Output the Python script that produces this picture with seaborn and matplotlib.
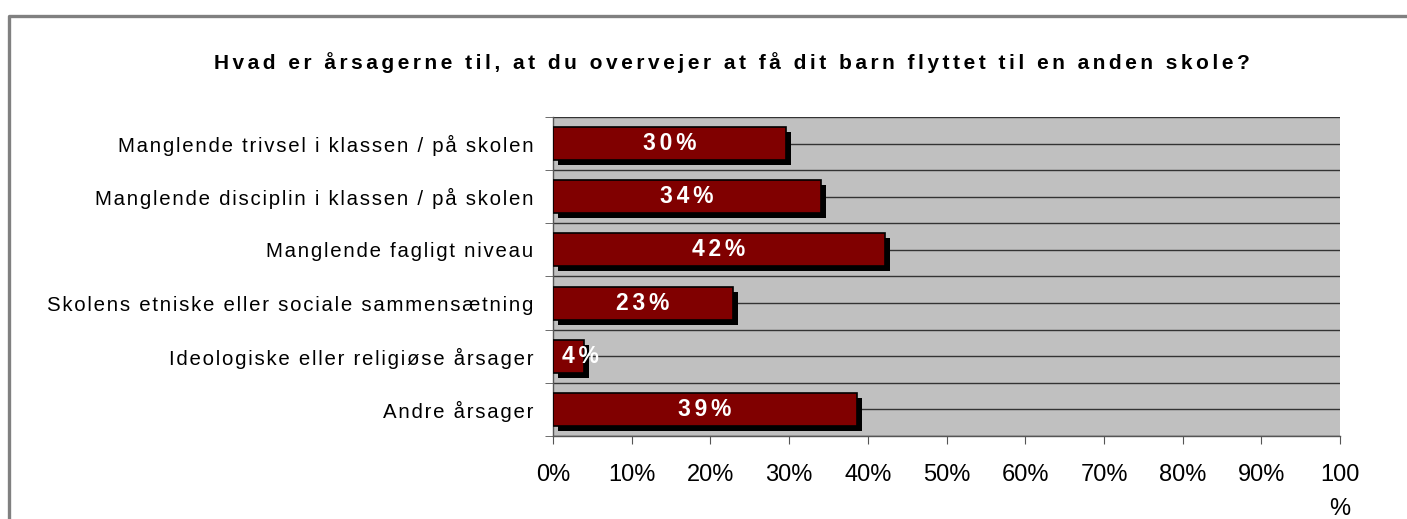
import numpy as np
import pandas as pd
import matplotlib
matplotlib.use("Agg")
import matplotlib.pyplot as plt
import matplotlib.patheffects as pe
from matplotlib.lines import Line2D
import seaborn as sns

# =============================================
# DATA
# =============================================

title = "Hvad er årsagerne til, at du overvejer at få dit barn flyttet til en anden skole?"
categories = [
    "Manglende trivsel i klassen / på skolen",
    "Manglende disciplin i klassen / på skolen",
    "Manglende fagligt niveau",
    "Skolens etniske eller sociale sammensætning",
    "Ideologiske eller religiøse årsager",
    "Andre årsager",
]
values = [29.6, 34.1, 42.2, 22.9, 3.9, 38.6]
x_ticks = [0, 10, 20, 30, 40, 50, 60, 70, 80, 90, 100]
x_tick_labels = ["0%", "10%", "20%", "30%", "40%", "50%", "60%", "70%", "80%", "90%", "100\n%"]

df = pd.DataFrame({"category": categories, "value": values})

FONT = ["Liberation Sans", "DejaVu Sans"]
HAIR = "\u200a"


def spaced(s, sp=HAIR):
    # imitate the wide letter spacing of the original
    return sp.join(s)


# =============================================
# PLOT
# =============================================

sns.set_style("white")
plt.rcParams["font.family"] = FONT
plt.rcParams["text.color"] = "black"
plt.rcParams["xtick.color"] = "black"
plt.rcParams["ytick.color"] = "black"

fig = plt.figure(figsize=(14.07, 5.19), dpi=100)
ax = fig.add_axes([0.393, 0.16, 0.5595, 0.6146])
ax.set_facecolor("#c0c0c0")

sns.barplot(data=df, x="value", y="category", orient="h", color="#800000",
            saturation=1, width=0.62, edgecolor="black", linewidth=1.2, ax=ax, zorder=3)

shadow = [pe.SimplePatchShadow(offset=(3.6, -3.6), shadow_rgbFace="black", alpha=1.0), pe.Normal()]
for p in ax.patches:
    p.set_path_effects(shadow)

# value labels
for i, v in enumerate(values):
    xpos = v / 2 if v > 8 else 1.2
    ha = "center" if v > 8 else "left"
    ax.text(xpos, i, spaced(f"{v:.0f}%", HAIR * 2), ha=ha, va="center", color="white",
            fontsize=16.5, fontweight="bold", zorder=5)

ax.set_xlim(0, 100)
ax.set_ylim(len(categories) - 0.5, -0.5)
ax.set_xticks(x_ticks)
ax.set_xticklabels(x_tick_labels, fontsize=17)
ax.get_xticklabels()[-1].set_linespacing(1.75)
ax.set_yticks(range(len(categories)))
ax.set_yticklabels([spaced(c) for c in categories], fontsize=14.7)
ax.set_yticks(np.arange(-0.5, len(categories), 1), minor=True)
ax.set_xlabel("")
ax.set_ylabel("")

ax.tick_params(axis="y", which="major", length=0, pad=14)
ax.tick_params(axis="y", which="minor", length=6, color="#555555", direction="out")
ax.tick_params(axis="x", which="major", length=6, color="#555555", direction="out", pad=14)
ax.tick_params(left=True, bottom=True, which="both")

ax.grid(axis="y", which="both", color="#333333", linewidth=1, zorder=1)
ax.set_axisbelow(True)
for s in ["top", "right"]:
    ax.spines[s].set_visible(False)
for s in ["left", "bottom"]:
    ax.spines[s].set_color("#555555")
    ax.spines[s].set_linewidth(1)

fig.text(0.52, 0.8805, spaced(title, HAIR * 2), ha="center", va="center",
         fontsize=15, fontweight="bold")

# grey outer frame (top and left edge)
fig.add_artist(Line2D([8.5 / 1407, 8.5 / 1407, 1.0], [0.0, 1 - 15.5 / 519, 1 - 15.5 / 519],
                      transform=fig.transFigure, color="#808080", linewidth=2.4))

fig.savefig("out.png", dpi=100)
